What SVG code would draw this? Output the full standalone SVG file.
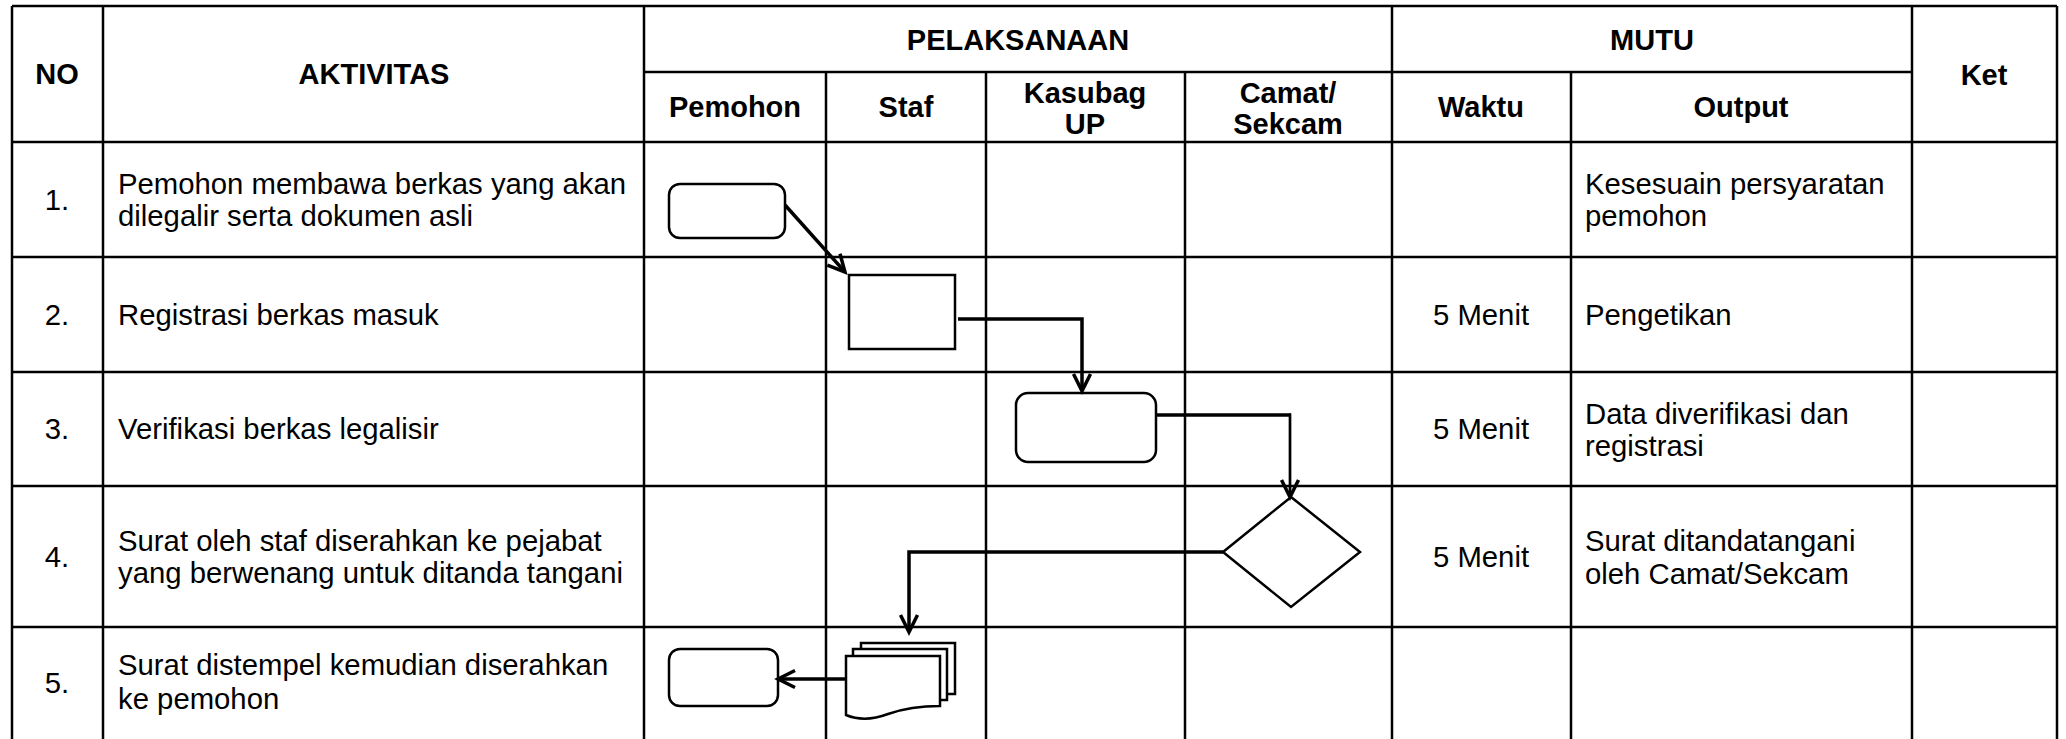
<svg xmlns="http://www.w3.org/2000/svg" width="2066" height="739" viewBox="0 0 2066 739">
<style>
.grid line{stroke:#000;stroke-width:2.5}
.h{font-family:"Liberation Sans",Arial,sans-serif;font-weight:bold;font-size:29px;fill:#000;text-anchor:middle}
.t{font-family:"Liberation Sans",Arial,sans-serif;font-size:29.3px;fill:#000}
.c{text-anchor:middle}
.shape{fill:#fff;stroke:#000;stroke-width:2.5}
.conn{fill:none;stroke:#000;stroke-width:3.5}
.thin{stroke-width:2.7}
</style>
<defs>
<marker id="arr" markerUnits="userSpaceOnUse" markerWidth="24" markerHeight="24" viewBox="0 0 24 24" refX="20" refY="12" orient="auto">
<path d="M3,3.5 L20,12 L3,20.5" fill="none" stroke="#000" stroke-width="3.5"/>
</marker>
</defs>
<rect width="2066" height="739" fill="#fff"/>
<g id="table" class="grid">
<line x1="12" y1="6" x2="2057" y2="6"/>
<line x1="644" y1="72" x2="1912" y2="72"/>
<line x1="12" y1="142" x2="2057" y2="142"/>
<line x1="12" y1="257" x2="2057" y2="257"/>
<line x1="12" y1="372" x2="2057" y2="372"/>
<line x1="12" y1="486" x2="2057" y2="486"/>
<line x1="12" y1="627" x2="2057" y2="627"/>
<line x1="12" y1="6" x2="12" y2="739"/>
<line x1="103" y1="6" x2="103" y2="739"/>
<line x1="644" y1="6" x2="644" y2="739"/>
<line x1="1392" y1="6" x2="1392" y2="739"/>
<line x1="1912" y1="6" x2="1912" y2="739"/>
<line x1="2057" y1="6" x2="2057" y2="739"/>
<line x1="826" y1="72" x2="826" y2="739"/>
<line x1="986" y1="72" x2="986" y2="739"/>
<line x1="1185" y1="72" x2="1185" y2="739"/>
<line x1="1571" y1="72" x2="1571" y2="739"/>
</g>
<g id="headers">
<text class="h" x="57" y="84">NO</text>
<text class="h" x="374" y="84">AKTIVITAS</text>
<text class="h" x="1018" y="50">PELAKSANAAN</text>
<text class="h" x="1652" y="50">MUTU</text>
<text class="h" x="1984" y="85">Ket</text>
<text class="h" x="735" y="117">Pemohon</text>
<text class="h" x="906" y="117">Staf</text>
<text class="h" x="1085" y="103">Kasubag</text>
<text class="h" x="1085" y="134">UP</text>
<text class="h" x="1288" y="103">Camat/</text>
<text class="h" x="1288" y="134">Sekcam</text>
<text class="h" x="1481" y="117">Waktu</text>
<text class="h" x="1741" y="117">Output</text>
</g>
<g id="row1">
<text class="t c" x="57" y="210">1.</text>
<text class="t" x="118" y="194">Pemohon membawa berkas yang akan</text>
<text class="t" x="118" y="226">dilegalir serta dokumen asli</text>
<text class="t" x="1585" y="194">Kesesuain persyaratan</text>
<text class="t" x="1585" y="226">pemohon</text>
</g>
<g id="row2">
<text class="t c" x="57" y="325">2.</text>
<text class="t" x="118" y="325">Registrasi berkas masuk</text>
<text class="t c" x="1481" y="325">5 Menit</text>
<text class="t" x="1585" y="325">Pengetikan</text>
</g>
<g id="row3">
<text class="t c" x="57" y="439">3.</text>
<text class="t" x="118" y="439">Verifikasi berkas legalisir</text>
<text class="t c" x="1481" y="439">5 Menit</text>
<text class="t" x="1585" y="424">Data diverifikasi dan</text>
<text class="t" x="1585" y="456">registrasi</text>
</g>
<g id="row4">
<text class="t c" x="57" y="567">4.</text>
<text class="t" x="118" y="551">Surat oleh staf diserahkan ke pejabat</text>
<text class="t" x="118" y="583">yang berwenang untuk ditanda tangani</text>
<text class="t c" x="1481" y="567">5 Menit</text>
<text class="t" x="1585" y="551">Surat ditandatangani</text>
<text class="t" x="1585" y="584">oleh Camat/Sekcam</text>
</g>
<g id="row5">
<text class="t c" x="57" y="693">5.</text>
<text class="t" x="118" y="675">Surat distempel kemudian diserahkan</text>
<text class="t" x="118" y="709">ke pemohon</text>
</g>
<g id="node-start"><rect class="shape" x="669" y="184" width="116" height="54" rx="11"/></g>
<g id="node-registrasi"><rect class="shape" x="849" y="275" width="106" height="74"/></g>
<g id="node-verifikasi"><rect class="shape" x="1016" y="393" width="140" height="69" rx="12"/></g>
<g id="node-decision"><polygon class="shape" points="1291,497 1360,552 1291,607 1223,552"/></g>
<g id="node-end"><rect class="shape" x="669" y="649" width="109" height="57" rx="11"/></g>
<g id="node-documents">
<rect class="shape" x="861" y="643" width="94" height="51"/>
<rect class="shape" x="853" y="649" width="94" height="51"/>
<path class="shape" d="M846,656 H940 V706 C920,706 905,708 888,714 C872,720 858,720 846,715 Z"/>
</g>
<g id="connectors">
<line class="conn" x1="785" y1="205" x2="845" y2="272" marker-end="url(#arr)"/>
<polyline class="conn" points="958,319 1082,319 1082,391" marker-end="url(#arr)"/>
<line class="conn" x1="1156" y1="415" x2="1291" y2="415"/>
<line class="conn thin" x1="1290" y1="413.5" x2="1290" y2="497" marker-end="url(#arr)"/>
<polyline class="conn" points="1223,552 909,552 909,632" marker-end="url(#arr)"/>
<line class="conn" x1="846" y1="679" x2="778" y2="679" marker-end="url(#arr)"/>
</g>
</svg>
